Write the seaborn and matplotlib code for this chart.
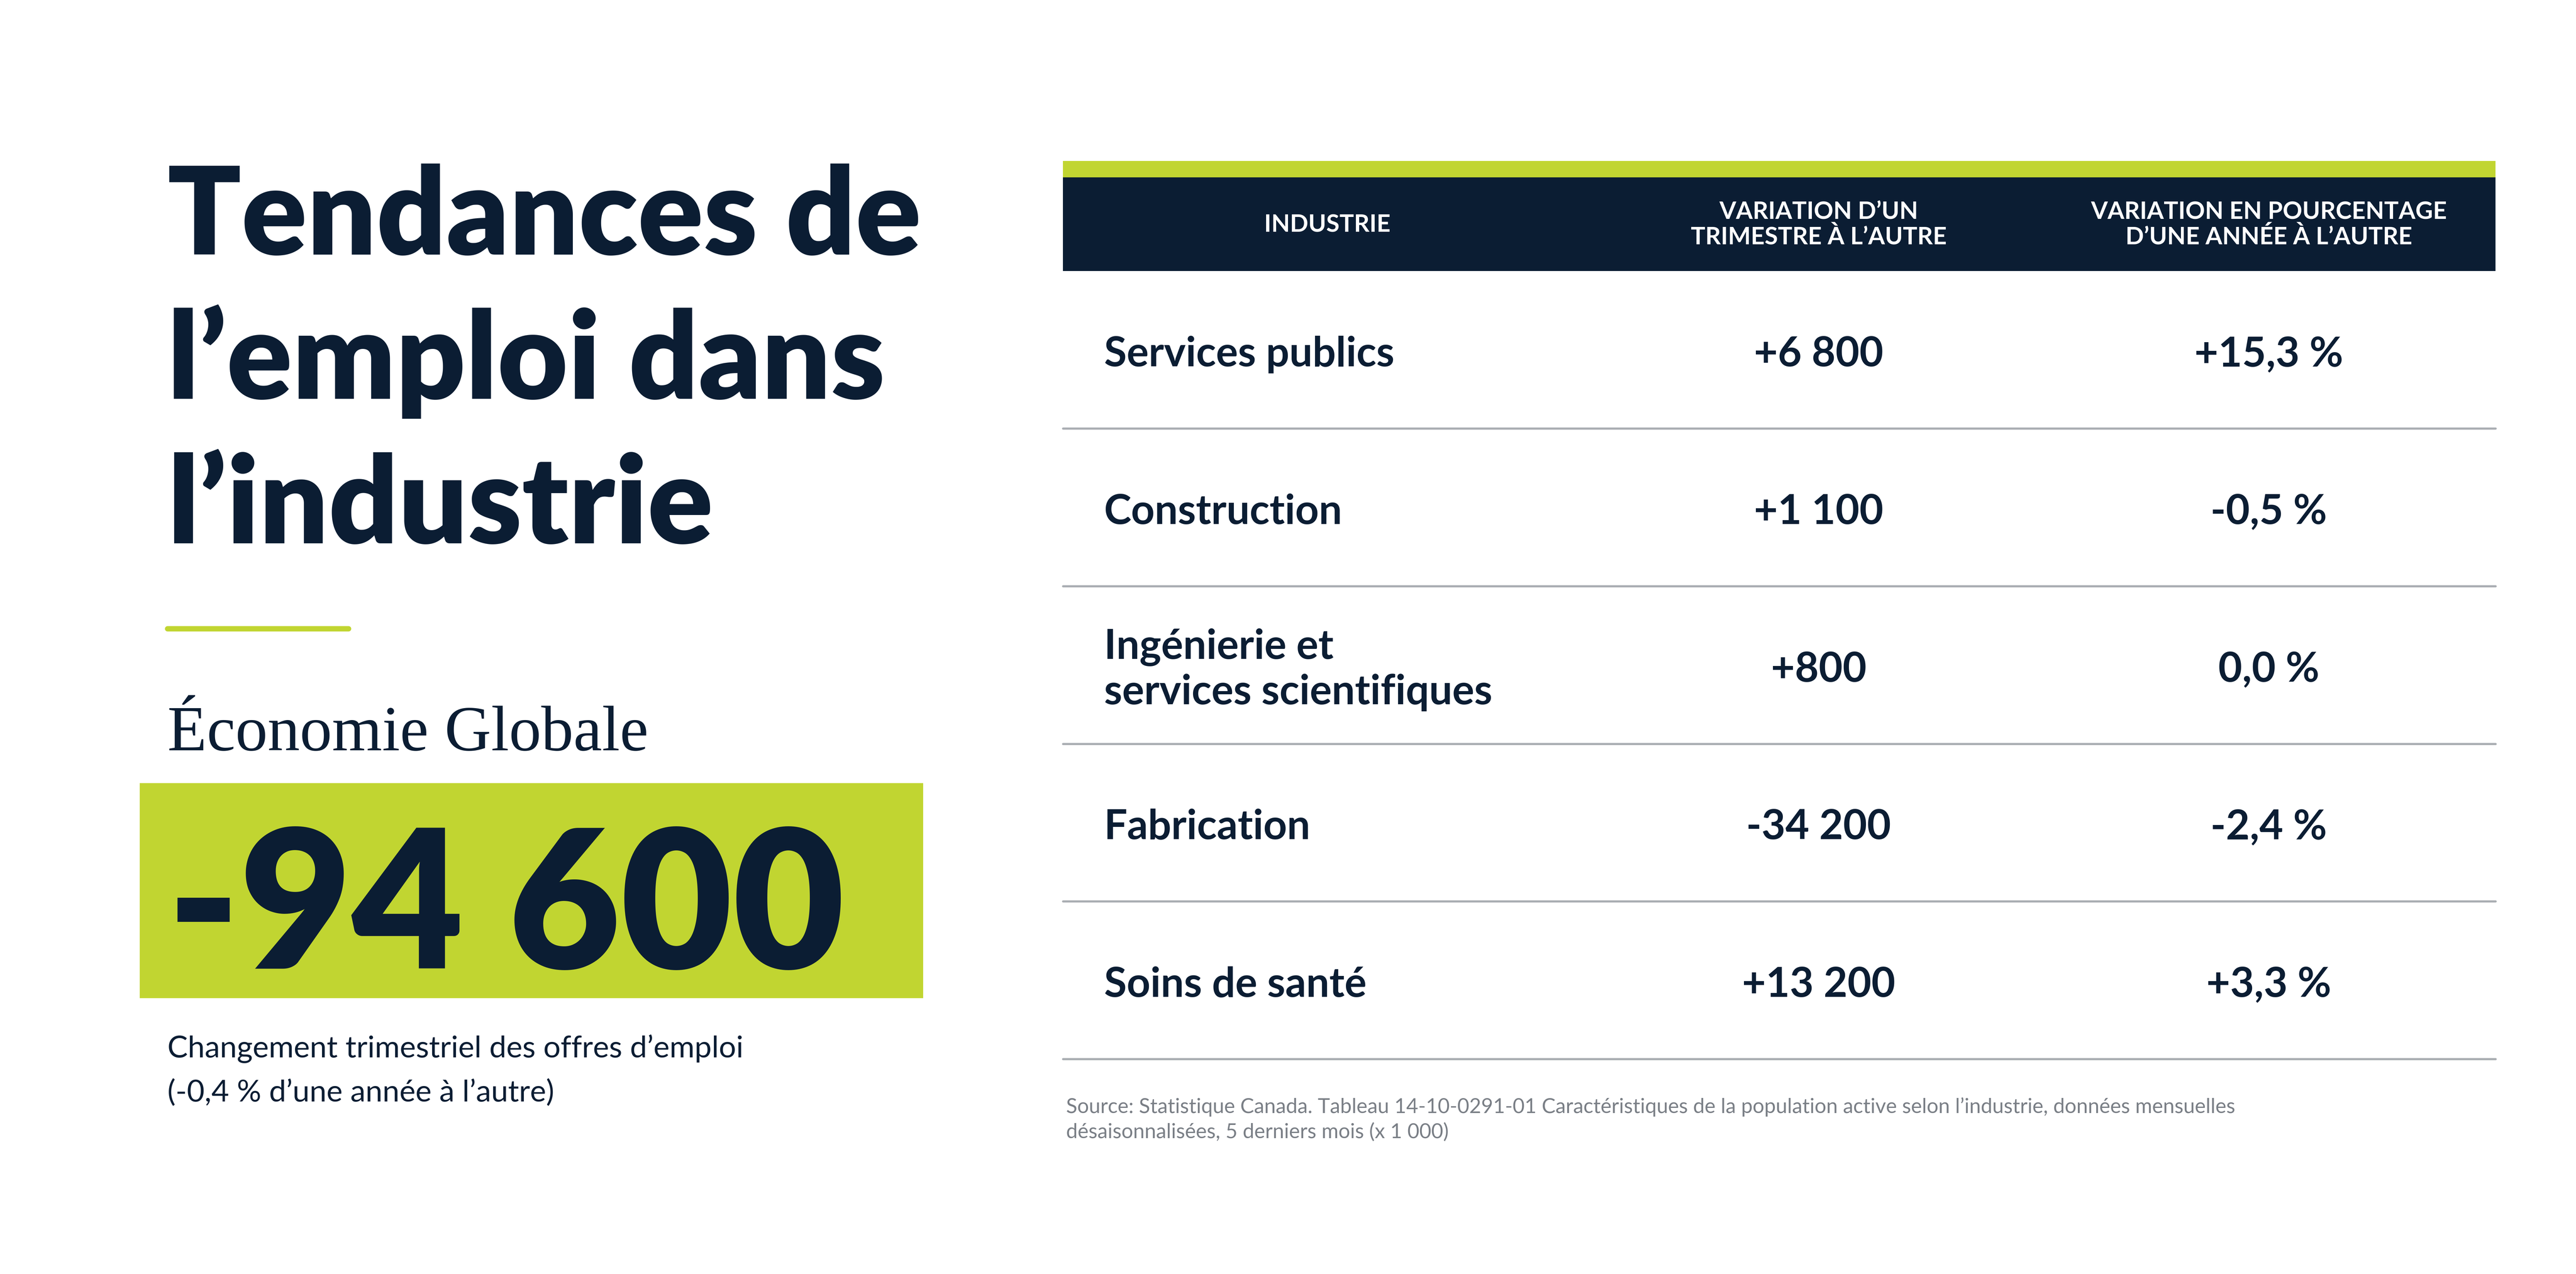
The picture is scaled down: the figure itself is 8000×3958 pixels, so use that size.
import matplotlib
matplotlib.use("Agg")
import matplotlib.pyplot as plt
import seaborn as sns
from matplotlib.patches import Rectangle

sns.set_theme(style="white")
plt.rcParams['font.family'] = ['Lato', 'DejaVu Sans']

NAVY = '#0b1d33'
GREEN = '#c1d531'
GRAY = '#7a7f86'

title_lines = ["Tendances de", "l\u2019emploi dans", "l\u2019industrie"]
big_number = "-94 600"
subtitle = "\u00c9conomie Globale"
caption = ["Changement trimestriel des offres d\u2019emploi",
           "(-0,4 % d\u2019une ann\u00e9e \u00e0 l\u2019autre)"]
headers = ["INDUSTRIE", "VARIATION D\u2019UN\nTRIMESTRE \u00c0 L\u2019AUTRE",
           "VARIATION EN POURCENTAGE\nD\u2019UNE ANN\u00c9E \u00c0 L\u2019AUTRE"]
industries = ["Services publics", "Construction",
              "Ing\u00e9nierie et\nservices scientifiques", "Fabrication", "Soins de sant\u00e9"]
qoq = ["+6 800", "+1 100", "+800", "-34 200", "+13 200"]
yoy = ["+15,3 %", "-0,5 %", "0,0 %", "-2,4 %", "+3,3 %"]
source = ("Source: Statistique Canada. Tableau 14-10-0291-01 Caract\u00e9ristiques de la population active selon l\u2019industrie, donn\u00e9es mensuelles\n"
          "d\u00e9saisonnalis\u00e9es, 5 derniers mois (x 1 000)")

W, H = 1568, 776
fig = plt.figure(figsize=(20, 20 * 3958 / 8000), dpi=400)
ax = fig.add_axes([0, 0, 1, 1])
ax.set_xlim(0, W)
ax.set_ylim(H, 0)
ax.axis('off')

# left block
for i, line in enumerate(title_lines):
    ax.text(102, 155 + i * 88, line, fontsize=68, fontweight='heavy', color=NAVY, va='baseline')
ax.plot([102, 212], [383, 383], color=GREEN, lw=3)
ax.text(102, 457, subtitle, fontsize=36, color=NAVY, va='baseline',
        family=['Liberation Serif', 'DejaVu Serif'])
ax.add_patch(Rectangle((85, 477), 477, 131, color=GREEN, lw=0))
ax.text(102, 590, big_number, fontsize=108, fontweight='heavy', color=NAVY, va='baseline')
for i, line in enumerate(caption):
    ax.text(102, 644 + i * 27, line, fontsize=17, color=NAVY, va='baseline')

# table
x0, x1 = 647, 1519
ax.add_patch(Rectangle((x0, 98), x1 - x0, 10, color=GREEN, lw=0))
ax.add_patch(Rectangle((x0, 108), x1 - x0, 57, color=NAVY, lw=0))
col_x = [808, 1107, 1381]
for cx, h in zip(col_x, headers):
    ax.text(cx, 137, h, fontsize=13.5, fontweight='bold', color='white',
            ha='center', va='center', linespacing=1.15)
row_h = 96
for i, (ind, q, y) in enumerate(zip(industries, qoq, yoy)):
    cy = 216 + i * row_h
    ax.text(672, cy, ind, fontsize=23, fontweight='bold', color=NAVY, ha='left', va='center',
            linespacing=1.25)
    ax.text(col_x[1], cy, q, fontsize=23, fontweight='bold', color=NAVY, ha='center', va='center')
    ax.text(col_x[2], cy, y, fontsize=23, fontweight='bold', color=NAVY, ha='center', va='center')
    ax.plot([x0, x1], [cy + 45, cy + 45], color='#a9adb2', lw=1.2)
ax.text(649, 682, source, fontsize=11.5, color=GRAY, va='center', linespacing=1.4)

fig.savefig("out.png", dpi=400, facecolor='white')
